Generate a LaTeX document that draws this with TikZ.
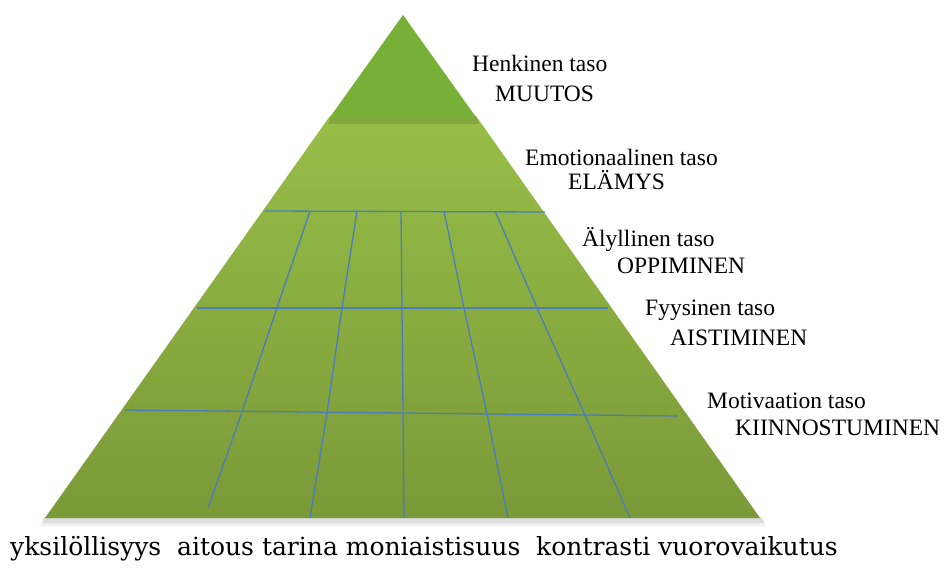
\documentclass[tikz,border=0pt]{standalone}
\usepackage{fontspec}
\setmainfont{Liberation Serif}
\newfontfamily\lblfont{Liberation Serif}
\newfontfamily\slabfont{DejaVu Serif}
\definecolor{gridblue}{RGB}{74,126,187}
\definecolor{topgreen}{RGB}{118,176,54}
\definecolor{lightgreen}{RGB}{152,190,72}
\definecolor{darkgreen}{RGB}{122,153,56}
\begin{document}
\begin{tikzpicture}[x=1pt,y=-1pt,
  gridline/.style={draw=gridblue, line width=1.3pt},
  lbl/.style={anchor=west, inner sep=0pt, text height=0.7em, text depth=0pt, font=\lblfont\fontsize{23.5}{27}\selectfont},
]
\useasboundingbox (0,0) rectangle (950,569);
% shadows
\fill[black, opacity=0.06] (43,517) -- (762,517) -- (766,526) -- (41,526) -- cycle;
\fill[black, opacity=0.08] (44,517) -- (761,517) -- (764,523) -- (43,523) -- cycle;
% lower part of the pyramid
\shade[top color=lightgreen, bottom color=darkgreen]
  (330,116) -- (476,116) -- (760,518) -- (45,518) -- cycle;
% shadow below top triangle
\fill[black, opacity=0.12] (330,118) -- (477,118) -- (479,124) -- (328,124) -- cycle;
% top triangle
\fill[topgreen] (403,15) -- (477,118.5) -- (329,118.5) -- cycle;
% horizontal grid lines
\draw[gridline] (265,211) -- (545,212);
\draw[gridline] (197,308) -- (608,308);
\draw[gridline] (125,410) -- (678,416);
% vertical grid lines
\draw[gridline] (310,211) -- (277,308) -- (242,412) -- (208,508);
\draw[gridline] (357,211) -- (342,308) -- (327,413) -- (310,518);
\draw[gridline] (401,211) -- (402,308) -- (403,413) -- (404,518);
\draw[gridline] (444,211) -- (464,308) -- (487,414) -- (508,518);
\draw[gridline] (495,211) -- (537,308) -- (585,415) -- (630,518);
% labels
\node[lbl] (l1a) at (472,68) {Henkinen taso};
\node[lbl] (l1b) at (495,98) {MUUTOS};
\node[lbl] (l2a) at (525,162) {Emotionaalinen taso};
\node[lbl] (l2b) at (568,186) {ELÄMYS};
\node[lbl] (l3a) at (582,243) {Älyllinen taso};
\node[lbl] (l3b) at (617,270) {OPPIMINEN};
\node[lbl] (l4a) at (645,312) {Fyysinen taso};
\node[lbl] (l4b) at (670,342) {AISTIMINEN};
\node[lbl] (l5a) at (707,405) {Motivaation taso};
\node[lbl] (l5b) at (735,432) {KIINNOSTUMINEN};
% bottom words
\node[anchor=west, inner sep=0pt, text height=0.55em, text depth=0pt, font=\slabfont\fontsize{25}{29}\selectfont] (words) at (10,553)
  {yksilöllisyys\ \ aitous tarina moniaistisuus\ \ kontrasti vuorovaikutus};
\end{tikzpicture}
\end{document}
